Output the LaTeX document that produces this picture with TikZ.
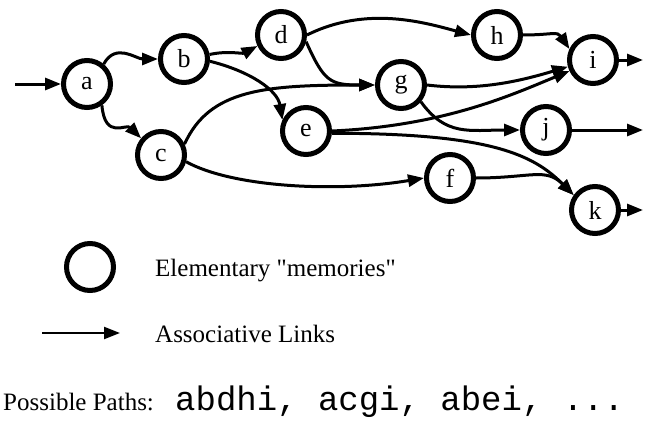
\documentclass[tikz,border=0pt]{standalone}
\usepackage{fontspec}
\setmainfont[Ligatures=TeXOff]{Liberation Serif}
\setmonofont{Liberation Mono}
\usetikzlibrary{arrows.meta}
\begin{document}
\begin{tikzpicture}[x=1pt,y=-1pt,
  mem/.style={circle,draw,line width=5pt,minimum size=47pt,inner sep=0pt,
    font=\fontsize{26}{26}\selectfont},
  link/.style={line width=3pt,-{Triangle[length=16pt,width=12pt]}},
  legtext/.style={anchor=base west,inner sep=0pt,font=\fontsize{25}{25}\selectfont},
  monotext/.style={anchor=base west,inner sep=0pt,font=\fontsize{34}{34}\ttfamily}]
\useasboundingbox (0,0) rectangle (647,420);
% nodes
\node[mem] (a) at (87,84) {a};
\node[mem] (b) at (184,59) {b};
\node[mem] (c) at (161,155) {c};
\node[mem] (d) at (281,35) {d};
\node[mem] (e) at (306,131) {e};
\node[mem] (f) at (450,178) {f};
\node[mem] (g) at (401,85) {g};
\node[mem] (h) at (497,35) {h};
\node[mem] (i) at (593,60) {i};
\node[mem] (j) at (546,130) {j};
\node[mem] (k) at (595,210) {k};
\coordinate (in) at (15,84);
\coordinate (io) at (643,60);
\coordinate (jo) at (643,130);
\coordinate (ko) at (643,210);
% links
\draw[link] (in) -- (a.west);
\draw[link] (a.50) .. controls +(12,-22) and +(-22,0) .. (b.west);
\draw[link] (a.-55) .. controls +(3,35) and +(-15,-15) .. (c.140);
\draw[link] (b.10) .. controls +(18,-4) and +(-15,8) .. (d.205);
\draw[link] (b.-5) .. controls +(40,10) and +(-5,-30) .. (e.155);
\draw[link] (d.east) .. controls +(60,-30) and +(-45,-12) .. (h.west);
\draw[link] (d.-15) .. controls +(18,40) and +(-45,0) .. (g.west);
\draw[link] (c.25) .. controls +(25,-55) and +(-110,0) .. (g.west);
\draw[link] (c.-15) .. controls +(45,25) and +(-90,15) .. (f.west);
\draw[link] (e.east) .. controls +(110,-5) and +(-60,25) .. (i.205);
\draw[link] (e.-5) .. controls +(160,0) and +(-40,-40) .. (k.145);
\draw[link] (g.east) .. controls +(50,6) and +(-50,15) .. (i.195);
\draw[link] (g.-40) .. controls +(25,35) and +(-50,0) .. (j.west);
\draw[link] (h.east) .. controls +(28,0) and +(-12,-18) .. (i.155);
\draw[link] (f.east) .. controls +(55,0) and +(-28,-28) .. (k.145);
\draw[link] (i.east) -- (io);
\draw[link] (j.east) -- (jo);
\draw[link] (k.east) -- (ko);
% legend
\node[mem] (legc) at (90,267) {};
\node[legtext] (legt) at (155,276) {Elementary "memories"};
\coordinate (lla) at (42,333);
\coordinate (llb) at (120,333);
\draw[link,line width=2.2pt] (lla) -- (llb);
\node[legtext] (llt) at (155,342) {Associative Links};
\node[legtext] (pp) at (3,410) {Possible Paths:};
\node[monotext] (ppl) at (175,410) {abdhi, acgi, abei, ...};
\end{tikzpicture}
\end{document}
